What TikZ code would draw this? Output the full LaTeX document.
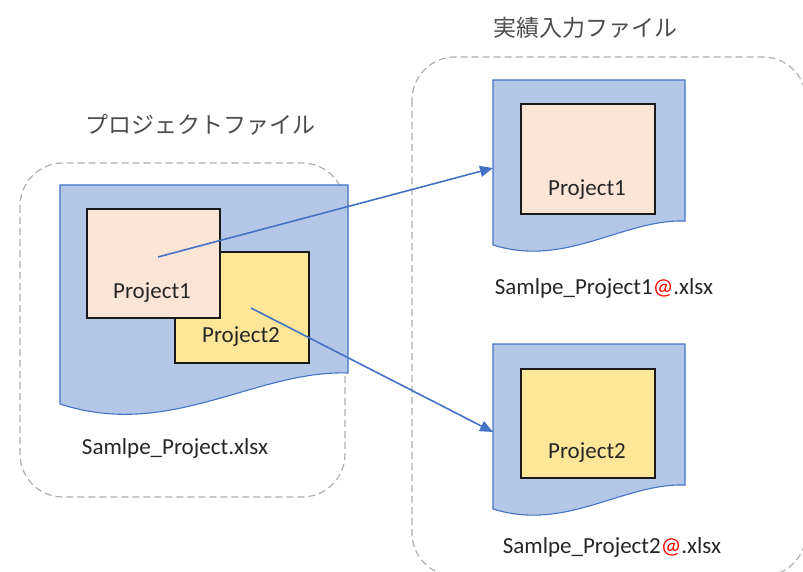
\documentclass[tikz,border=0pt]{standalone}
\usepackage{fontspec}
\setmainfont{Carlito}
\newfontfamily\jpfont{Noto Sans CJK JP}
\usetikzlibrary{arrows.meta}
\definecolor{docfill}{HTML}{B4C7E7}
\definecolor{docline}{HTML}{4472C4}
\definecolor{pone}{HTML}{FBE5D6}
\definecolor{ptwo}{HTML}{FFE699}
\definecolor{arrowblue}{HTML}{4472C4}
\definecolor{dashgray}{HTML}{AEAEAE}
\definecolor{txt}{HTML}{262626}
\definecolor{titlegray}{HTML}{4D4D4D}
\tikzset{
  group/.style={draw=dashgray, line width=1.2pt, dash pattern=on 7pt off 4pt, rounded corners=43pt},
  docshape/.style={draw=docline, fill=docfill, line width=1.1pt},
  projbox/.style={draw=black!90, line width=1.9pt, inner sep=0pt, anchor=north west},
  lbl/.style={text=txt, font=\fontsize{23}{26}\selectfont, inner sep=0pt},
  title/.style={text=titlegray, font=\jpfont\fontsize{23}{26}\selectfont, inner sep=0pt},
  arr/.style={draw=arrowblue, line width=1.6pt, -{Triangle[length=13pt,width=11pt]}}
}
\begin{document}
\begin{tikzpicture}[x=1pt,y=-1pt]
\useasboundingbox (0,0) rectangle (803,572);
% groups
\draw[group] (20,163) rectangle (345,497);
\draw[group] (412,57) rectangle (806,576);
% titles
\node[title] (t1) at (200,125) {プロジェクトファイル};
\node[title] (t2) at (585,28) {実績入力ファイル};
% left document
\draw[docshape] (60,185) -- (348,185) -- (348,373)
  .. controls (255,370) and (170,440) .. (60,404) -- cycle;
\node[projbox, fill=ptwo, minimum width=134pt, minimum height=111pt] (p2) at (174,251) {};
\node[projbox, fill=pone, minimum width=133pt, minimum height=109pt] (p1) at (86,208) {};
\node[lbl] (p1t) at (152,293) {Project1};
\node[lbl] (p2t) at (241,337) {Project2};
\node[lbl] (f0) at (175,448) {Samlpe\_Project.xlsx};
% right document 1
\draw[docshape] (493,80) -- (685,80) -- (685,221)
  .. controls (623,219) and (566,268) .. (493,245) -- cycle;
\node[projbox, fill=pone, minimum width=134pt, minimum height=110pt] (q1) at (520,103) {};
\node[lbl] (q1t) at (587,190) {Project1};
\node[lbl] (f1) at (604,288) {Samlpe\_Project1{\color{red}@}.xlsx};
% right document 2
\draw[docshape] (493,344) -- (685,344) -- (685,485)
  .. controls (623,483) and (566,532) .. (493,509) -- cycle;
\node[projbox, fill=ptwo, minimum width=134pt, minimum height=109pt] (q2) at (520,368) {};
\node[lbl] (q2t) at (587,453) {Project2};
\node[lbl] (f2) at (612,547) {Samlpe\_Project2{\color{red}@}.xlsx};
% arrows
\coordinate (a1s) at (158,257);
\coordinate (a1e) at (493,168);
\coordinate (a2s) at (251,308);
\coordinate (a2e) at (493,432);
\draw[arr] (a1s) -- (a1e);
\draw[arr] (a2s) -- (a2e);
\end{tikzpicture}
\end{document}
